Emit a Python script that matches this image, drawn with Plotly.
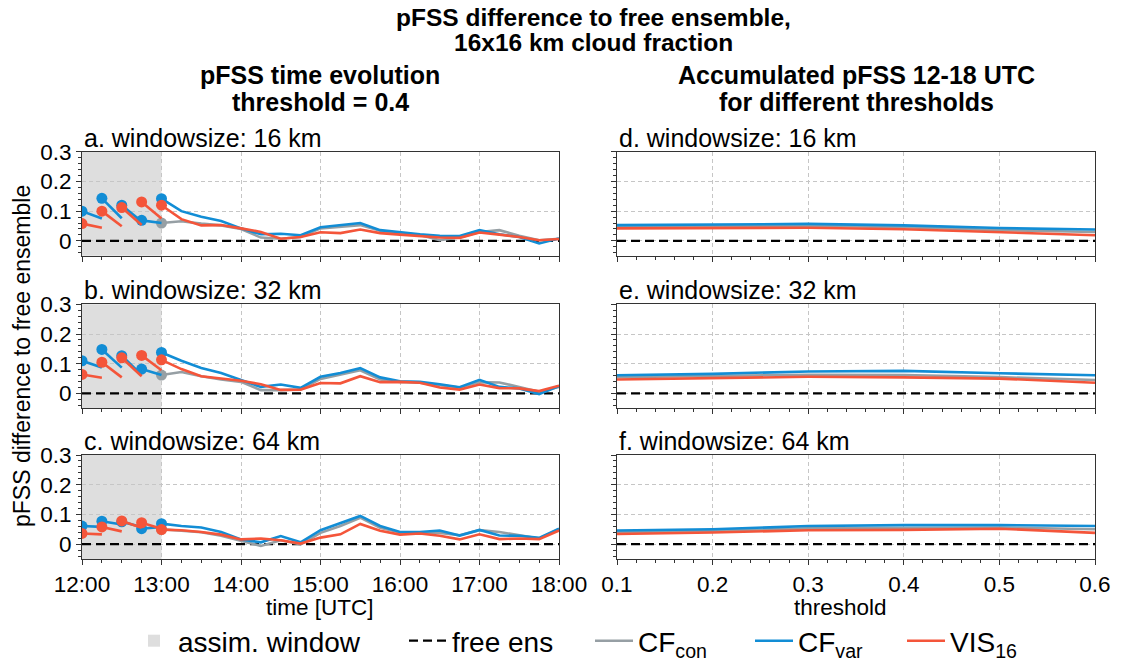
import plotly.graph_objects as go

W, H = 1127, 661
DAY = "2021-06-01 "

# ---- time axes -------------------------------------------------------------
assim_times = ["12:00", "12:15", "12:30", "12:45"]      # analyses inside window
fc_end_times = ["12:15", "12:30", "12:45", "13:00"]     # end of 15-min forecasts
evol_times = ["13:00", "13:15", "13:30", "13:45", "14:00", "14:15", "14:30",
              "14:45", "15:00", "15:15", "15:30", "15:45", "16:00", "16:15",
              "16:30", "16:45", "17:00", "17:15", "17:30", "17:45", "18:00"]
thresholds = [0.1, 0.2, 0.3, 0.4, 0.5, 0.6]
free_ens = 0.0
window_start, window_end = "12:00", "13:00"

# ---- windowsize 16 km ------------------------------------------------------
cfvar16_assim = [0.100, 0.143, 0.120, 0.069]
cfvar16_fc = [0.075, 0.076, 0.065, 0.060]
vis16_16_assim = [0.058, 0.100, 0.112, 0.131]
vis16_16_fc = [0.044, 0.049, 0.053, 0.075]
cfcon16_evol = [0.060, 0.066, 0.058, 0.052, 0.040, 0.011, 0.007, 0.013, 0.042, 0.047, 0.053,
                0.034, 0.025, 0.020, 0.002, 0.011, 0.030, 0.036, 0.017, 0.002, 0.007]
cfvar16_evol = [0.142, 0.100, 0.081, 0.067, 0.042, 0.022, 0.024, 0.019, 0.046, 0.053, 0.060,
                0.036, 0.028, 0.022, 0.017, 0.016, 0.036, 0.022, 0.013, -0.009, 0.008]
vis16_16_evol = [0.120, 0.073, 0.052, 0.053, 0.042, 0.030, 0.007, 0.013, 0.029, 0.026, 0.038,
                 0.026, 0.021, 0.017, 0.011, 0.010, 0.028, 0.021, 0.013, 0.002, 0.006]
cfcon16_thr = [0.048, 0.050, 0.051, 0.046, 0.036, 0.030]
cfvar16_thr = [0.053, 0.055, 0.057, 0.052, 0.043, 0.038]
vis16_16_thr = [0.042, 0.044, 0.044, 0.039, 0.029, 0.019]

# ---- windowsize 32 km ------------------------------------------------------
cfvar32_assim = [0.110, 0.148, 0.127, 0.082]
cfvar32_fc = [0.087, 0.087, 0.062, 0.062]
vis16_32_assim = [0.064, 0.105, 0.120, 0.128]
vis16_32_fc = [0.053, 0.054, 0.058, 0.078]
cfcon32_evol = [0.062, 0.072, 0.058, 0.047, 0.039, 0.011, 0.011, 0.013, 0.049, 0.064, 0.078,
                0.047, 0.039, 0.036, 0.028, 0.020, 0.038, 0.037, 0.022, 0.006, 0.022]
cfvar32_evol = [0.138, 0.110, 0.086, 0.069, 0.045, 0.022, 0.030, 0.019, 0.056, 0.069, 0.085,
                0.054, 0.041, 0.039, 0.031, 0.021, 0.046, 0.022, 0.017, -0.002, 0.025]
vis16_32_evol = [0.113, 0.082, 0.058, 0.050, 0.043, 0.031, 0.012, 0.013, 0.035, 0.034, 0.058,
                 0.038, 0.039, 0.036, 0.020, 0.013, 0.030, 0.018, 0.017, 0.008, 0.026]
cfcon32_thr = [0.055, 0.058, 0.063, 0.062, 0.055, 0.045]
cfvar32_thr = [0.061, 0.066, 0.074, 0.076, 0.068, 0.061]
vis16_32_thr = [0.047, 0.051, 0.056, 0.054, 0.050, 0.036]

# ---- windowsize 64 km ------------------------------------------------------
cfvar64_assim = [0.061, 0.077, 0.075, 0.052]
cfvar64_fc = [0.058, 0.066, 0.058, 0.058]
vis16_64_assim = [0.036, 0.058, 0.078, 0.072]
vis16_64_fc = [0.033, 0.043, 0.055, 0.052]
cfcon64_evol = [0.050, 0.045, 0.040, 0.028, 0.011, -0.006, 0.013, -0.001, 0.038, 0.061, 0.089,
                0.055, 0.039, 0.039, 0.038, 0.030, 0.047, 0.041, 0.030, 0.019, 0.050]
cfvar64_evol = [0.069, 0.061, 0.056, 0.041, 0.016, 0.006, 0.027, 0.006, 0.047, 0.071, 0.095,
                0.061, 0.041, 0.041, 0.046, 0.029, 0.048, 0.029, 0.028, 0.021, 0.052]
vis16_64_evol = [0.049, 0.047, 0.041, 0.032, 0.016, 0.019, 0.013, 0.002, 0.022, 0.033, 0.068,
                 0.045, 0.032, 0.036, 0.028, 0.016, 0.033, 0.017, 0.019, 0.017, 0.046]
cfcon64_thr = [0.040, 0.045, 0.053, 0.055, 0.056, 0.050]
cfvar64_thr = [0.046, 0.050, 0.061, 0.064, 0.064, 0.061]
vis16_64_thr = [0.034, 0.039, 0.047, 0.048, 0.052, 0.038]

panel_titles = ["a. windowsize: 16 km", "b. windowsize: 32 km", "c. windowsize: 64 km",
                "d. windowsize: 16 km", "e. windowsize: 32 km", "f. windowsize: 64 km"]

GRAY = "#969fa4"
BLUE = "#128dd5"
RED = "#f4553a"
SHADE = "#dedede"
AXC = "#333333"
FONT = "Liberation Sans, Arial, sans-serif"


def t(hhmm):
    return DAY + hhmm


def px_x(p):
    return p / W


def px_y(p):
    return 1 - p / H


# pixel boxes of the six panels
left_x = (82, 559)
right_x = (617, 1095)
rows = [(151.7, 255.7), (304.3, 408.3), (455.0, 559.0)]

# one legend box per entry, laid out along the bottom row
legend_x = {"legend": 130, "legend2": 404, "legend3": 590, "legend4": 750, "legend5": 902}

fig = go.Figure()

rows_data = [
    (cfcon16_evol, cfvar16_evol, vis16_16_evol, cfvar16_assim, cfvar16_fc,
     vis16_16_assim, vis16_16_fc, cfcon16_thr, cfvar16_thr, vis16_16_thr),
    (cfcon32_evol, cfvar32_evol, vis16_32_evol, cfvar32_assim, cfvar32_fc,
     vis16_32_assim, vis16_32_fc, cfcon32_thr, cfvar32_thr, vis16_32_thr),
    (cfcon64_evol, cfvar64_evol, vis16_64_evol, cfvar64_assim, cfvar64_fc,
     vis16_64_assim, vis16_64_fc, cfcon64_thr, cfvar64_thr, vis16_64_thr),
]

LW = 2.6
MS = 11
ZERO_DASH = dict(color="black", width=2.2, dash="9px,5px")


def segments(vals_start, vals_end):
    xs, ys = [], []
    for ts, te, vs, ve in zip(assim_times, fc_end_times, vals_start, vals_end):
        xs += [t(ts), t(te), None]
        ys += [vs, ve, None]
    return xs, ys


for r, data in enumerate(rows_data):
    (cfcon_e, cfvar_e, vis_e, cfvar_a, cfvar_f, vis_a, vis_f,
     cfcon_t, cfvar_t, vis_t) = data
    la = "" if r == 0 else str(r + 1)
    ra = str(r + 4)
    xl, yl = "x" + la, "y" + la
    xr, yr = "x" + ra, "y" + ra
    first = r == 0
    ev_x = [t(s) for s in evol_times]

    # free ensemble reference
    fig.add_trace(go.Scatter(x=[t(window_start), t("18:00")], y=[free_ens, free_ens],
                             mode="lines", line=ZERO_DASH, name="free ens",
                             legendgroup="free", showlegend=first, legend="legend2",
                             xaxis=xl, yaxis=yl, hoverinfo="skip"))
    fig.add_trace(go.Scatter(x=[thresholds[0], thresholds[-1]], y=[free_ens, free_ens],
                             mode="lines", line=ZERO_DASH, legendgroup="free",
                             showlegend=False, xaxis=xr, yaxis=yr, hoverinfo="skip"))

    # CF_con
    fig.add_trace(go.Scatter(x=ev_x, y=cfcon_e, mode="lines", line=dict(color=GRAY, width=LW),
                             name="CF<sub>con</sub>", legendgroup="con", showlegend=first,
                             legend="legend3", xaxis=xl, yaxis=yl))
    fig.add_trace(go.Scatter(x=[ev_x[0]], y=[cfcon_e[0]], mode="markers",
                             marker=dict(color=GRAY, size=MS), legendgroup="con",
                             showlegend=False, xaxis=xl, yaxis=yl))
    fig.add_trace(go.Scatter(x=thresholds, y=cfcon_t, mode="lines",
                             line=dict(color=GRAY, width=LW), legendgroup="con",
                             showlegend=False, xaxis=xr, yaxis=yr))

    # CF_var and VIS_16
    for name, col, ev, an, fc, th, grp, leg in [
        ("CF<sub>var</sub>", BLUE, cfvar_e, cfvar_a, cfvar_f, cfvar_t, "var", "legend4"),
        ("VIS<sub>16</sub>", RED, vis_e, vis_a, vis_f, vis_t, "vis", "legend5"),
    ]:
        sx, sy = segments(an, fc)
        fig.add_trace(go.Scatter(x=sx, y=sy, mode="lines", line=dict(color=col, width=LW),
                                 legendgroup=grp, showlegend=False, xaxis=xl, yaxis=yl))
        fig.add_trace(go.Scatter(x=ev_x, y=ev, mode="lines", line=dict(color=col, width=LW),
                                 name=name, legendgroup=grp, showlegend=first, legend=leg,
                                 xaxis=xl, yaxis=yl))
        fig.add_trace(go.Scatter(x=[t(s) for s in assim_times] + [ev_x[0]], y=an + [ev[0]],
                                 mode="markers", marker=dict(color=col, size=MS),
                                 legendgroup=grp, showlegend=False, xaxis=xl, yaxis=yl))
        fig.add_trace(go.Scatter(x=thresholds, y=th, mode="lines",
                                 line=dict(color=col, width=LW), legendgroup=grp,
                                 showlegend=False, xaxis=xr, yaxis=yr))

# ---- axes ------------------------------------------------------------------
common = dict(showline=True, linecolor=AXC, linewidth=1, mirror=True, zeroline=False,
              ticks="outside", ticklen=5, tickwidth=1, tickcolor=AXC, automargin=False,
              showgrid=True, gridcolor="#c6c6c6", gridwidth=1, griddash="4px,3px",
              tickfont=dict(size=22.5, color="black", family=FONT))

layout_axes = {}
for r, (top, bot) in enumerate(rows):
    ydom = [px_y(bot), px_y(top)]
    for side, (x0, x1) in enumerate([left_x, right_x]):
        idx = r + 1 + 3 * side
        sfx = "" if idx == 1 else str(idx)
        xa = dict(common, domain=[px_x(x0), px_x(x1)], anchor="y" + sfx,
                  showticklabels=(r == 2))
        if side == 0:
            xa.update(type="date", range=[t("12:00"), t("18:00")], dtick=3600000,
                      tick0=t("12:00"), tickformat="%H:%M",
                      minor=dict(dtick=900000, ticks="outside", ticklen=3,
                                 tickcolor=AXC, showgrid=False))
        else:
            xa.update(range=[0.1, 0.6], tickvals=thresholds,
                      ticktext=[f"{v:.1f}" for v in thresholds],
                      minor=dict(dtick=0.02, tick0=0.1, ticks="outside", ticklen=3,
                                 tickcolor=AXC, showgrid=False))
        ya = dict(common, domain=ydom, anchor="x" + sfx, range=[-0.05, 0.3],
                  tickvals=[0, 0.1, 0.2, 0.3], ticktext=["0", "0.1", "0.2", "0.3"],
                  showticklabels=(side == 0),
                  minor=dict(dtick=0.02, tick0=0, ticks="outside", ticklen=3,
                             tickcolor=AXC, showgrid=False))
        layout_axes["xaxis" + sfx] = xa
        layout_axes["yaxis" + sfx] = ya

fig.update_layout(**layout_axes)

# assimilation window shading
for r in range(3):
    sfx = "" if r == 0 else str(r + 1)
    fig.add_shape(type="rect", xref="x" + sfx, yref="y" + sfx + " domain",
                  x0=t(window_start), x1=t(window_end), y0=0, y1=1,
                  fillcolor=SHADE, line=dict(width=0), layer="below",
                  showlegend=(r == 0), name="assim. window", legend="legend")

# ---- texts -----------------------------------------------------------------
ann = []


def text(x, y, s, size=20, bold=False, xanchor="center", angle=0):
    ann.append(dict(x=px_x(x), y=px_y(y), xref="paper", yref="paper", text=s,
                    showarrow=False, xanchor=xanchor, yanchor="middle", textangle=angle,
                    font=dict(size=size, family=FONT, color="black",
                              weight="bold" if bold else "normal")))


text(593, 17, "pFSS difference to free ensemble,", size=24.5, bold=True)
text(593, 43, "16x16 km cloud fraction", size=24.5, bold=True)
text(320, 75, "pFSS time evolution", size=25, bold=True)
text(320, 102, "threshold = 0.4", size=25, bold=True)
text(856, 75, "Accumulated pFSS 12-18 UTC", size=25, bold=True)
text(856, 102, "for different thresholds", size=25, bold=True)
for r, (top, bot) in enumerate(rows):
    text(left_x[0], top - 14, panel_titles[r], size=25, xanchor="left")
    text(right_x[0], top - 14, panel_titles[r + 3], size=25, xanchor="left")
text(22, 356, "pFSS difference to free ensemble", size=23, angle=-90)
text(320, 607, "time [UTC]", size=22.5)
text(840, 607, "threshold", size=22.5)

legends = {}
for key, xpx in legend_x.items():
    legends[key] = dict(orientation="h", x=px_x(xpx), xanchor="left", y=px_y(641),
                        yanchor="middle", font=dict(size=28, family=FONT),
                        itemwidth=38, bgcolor="rgba(0,0,0,0)")

fig.update_layout(
    width=W, height=H, margin=dict(l=0, r=0, t=0, b=0, autoexpand=False),
    paper_bgcolor="white", plot_bgcolor="white",
    font=dict(family=FONT, size=20, color="black"),
    annotations=ann,
    showlegend=True,
    **legends,
)

fig.write_html("out.html")
